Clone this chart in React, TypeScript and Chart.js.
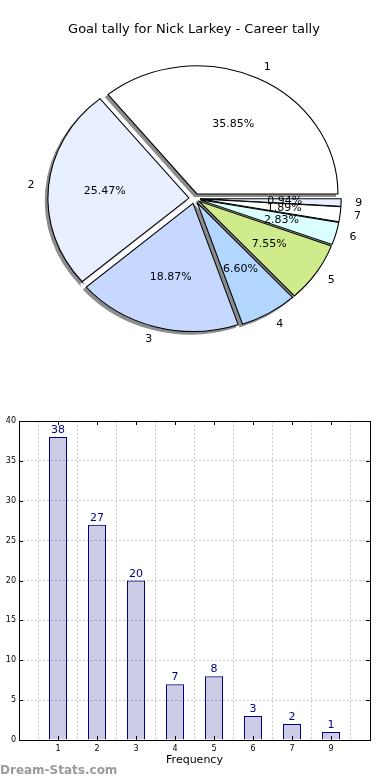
import { useEffect, useRef } from 'react';
import { Chart, registerables } from 'chart.js';

Chart.register(...registerables);

const TITLE = 'Goal tally for Nick Larkey - Career tally';
const categories = ['1', '2', '3', '4', '5', '6', '7', '9'];
const goals = [38, 27, 20, 7, 8, 3, 2, 1];
const sliceColors = ['#ffffff', '#e8f0ff', '#c6d8ff', '#b3d6ff', '#d0eb8c', '#dbffff', '#ffffff', '#e8f0ff'];
const yTicks = [0, 5, 10, 15, 20, 25, 30, 35, 40];
const xAxisTitle = 'Frequency';
const watermark = 'Dream-Stats.com';

const FONT = "'DejaVu Sans', Verdana, sans-serif";
const RADIUS = 128;
const SX = 141 / 128;
const EXPLODE = 0.04;
const SHADOW_DX = -2.6;
const SHADOW_DY = 2.6;
const SHADOW_COLOR = '#8c8c8c';

// matplotlib draws counter-clockwise from 3 o'clock; Chart.js draws clockwise,
// so the order is reversed and the start is put at 3 o'clock.
const pieLabels = [...categories].reverse();
const pieValues = [...goals].reverse();
const pieColors = [...sliceColors].reverse();
const total = goals.reduce((a, b) => a + b, 0);

const piePlugin = {
  id: 'pieDecor',
  beforeDraw(chart: any) {
    const ctx = chart.ctx;
    ctx.save();
    ctx.fillStyle = '#000';
    ctx.font = `13px ${FONT}`;
    ctx.textAlign = 'center';
    ctx.textBaseline = 'middle';
    ctx.fillText(TITLE, 194, 30);
    ctx.restore();
  },
  beforeDatasetDraw(chart: any, args: any) {
    const meta = chart.getDatasetMeta(args.index);
    const els = meta.data;
    if (!els.length) return;
    const ctx = chart.ctx;
    const cx = els[0].x;
    const cy = els[0].y;
    ctx.save();
    ctx.translate(cx, cy);
    ctx.scale(SX, 1);
    ctx.translate(-cx, -cy);
    const pass = (shadow: boolean) => {
      els.forEach((el: any) => {
        const mid = (el.startAngle + el.endAngle) / 2;
        const d = EXPLODE * el.outerRadius;
        ctx.save();
        ctx.translate(
          Math.cos(mid) * d + (shadow ? SHADOW_DX / SX : 0),
          Math.sin(mid) * d + (shadow ? SHADOW_DY : 0)
        );
        if (shadow) {
          const orig = el.options;
          el.options = { ...orig, backgroundColor: SHADOW_COLOR, borderColor: SHADOW_COLOR };
          el.draw(ctx);
          el.options = orig;
        } else {
          el.draw(ctx);
        }
        ctx.restore();
      });
    };
    pass(true);
    pass(false);
    ctx.restore();
    return false;
  },
  afterDatasetsDraw(chart: any) {
    const meta = chart.getDatasetMeta(0);
    const els = meta.data;
    const ctx = chart.ctx;
    ctx.save();
    ctx.fillStyle = '#000';
    ctx.font = `11px ${FONT}`;
    ctx.textBaseline = 'middle';
    els.forEach((el: any, i: number) => {
      const mid = (el.startAngle + el.endAngle) / 2;
      const ux = Math.cos(mid);
      const uy = Math.sin(mid);
      const r = el.outerRadius;
      const d = EXPLODE * r;
      const pct = ((pieValues[i] / total) * 100).toFixed(2) + '%';
      ctx.textAlign = 'center';
      ctx.fillText(pct, el.x + SX * (ux * d + ux * r * 0.6), el.y + uy * d + uy * r * 0.6);
      ctx.textAlign = ux >= 0 ? 'left' : 'right';
      ctx.fillText(pieLabels[i], el.x + SX * (ux * d + ux * r * 1.1), el.y + uy * d + uy * r * 1.1);
    });
    ctx.restore();
  },
};

const barPlugin = {
  id: 'barDecor',
  afterDatasetsDraw(chart: any) {
    const ctx = chart.ctx;
    const meta = chart.getDatasetMeta(0);
    const data = chart.data.datasets[0].data;
    ctx.save();
    ctx.fillStyle = '#000080';
    ctx.font = `11px ${FONT}`;
    ctx.textAlign = 'center';
    ctx.textBaseline = 'alphabetic';
    meta.data.forEach((el: any, i: number) => {
      const v = data[i];
      if (v === null || v === undefined) return;
      ctx.fillText(String(v), el.x, el.y - 4);
    });
    ctx.restore();
  },
  afterDraw(chart: any) {
    const ctx = chart.ctx;
    const a = chart.chartArea;
    const xs = chart.scales.x;
    const ys = chart.scales.y;
    ctx.save();
    ctx.strokeStyle = '#000';
    ctx.lineWidth = 1;
    ctx.beginPath();
    yTicks.forEach((t) => {
      const y = Math.round(ys.getPixelForValue(t)) + 0.5;
      ctx.moveTo(a.left, y);
      ctx.lineTo(a.left + 4, y);
      ctx.moveTo(a.right, y);
      ctx.lineTo(a.right - 4, y);
    });
    categories.forEach((_c, i) => {
      const x = Math.round(xs.getPixelForValue(i + 1)) + 0.5;
      ctx.moveTo(x, a.bottom);
      ctx.lineTo(x, a.bottom - 4);
      ctx.moveTo(x, a.top);
      ctx.lineTo(x, a.top + 4);
    });
    ctx.stroke();
    ctx.strokeRect(Math.round(a.left) + 0.5, Math.round(a.top) + 0.5, Math.round(a.right - a.left), Math.round(a.bottom - a.top));
    ctx.restore();
  },
};

export default function App() {
  const pieRef = useRef<HTMLCanvasElement>(null);
  const barRef = useRef<HTMLCanvasElement>(null);

  useEffect(() => {
    const pie = new Chart(pieRef.current as HTMLCanvasElement, {
      type: 'pie',
      data: {
        labels: pieLabels,
        datasets: [
          {
            data: pieValues,
            backgroundColor: pieColors,
            borderColor: '#000',
            borderWidth: 1,
            borderJoinStyle: 'miter',
          } as any,
        ],
      },
      options: {
        animation: false,
        responsive: false,
        events: [],
        rotation: 90,
        radius: RADIUS,
        layout: { padding: { top: 7, right: 1, left: 0, bottom: 0 } },
        plugins: { legend: { display: false }, tooltip: { enabled: false }, title: { display: false } },
      } as any,
      plugins: [piePlugin],
    });

    const bar = new Chart(barRef.current as HTMLCanvasElement, {
      type: 'bar',
      data: {
        labels: ['', ...categories, ''],
        datasets: [
          {
            data: [null, ...goals, null],
            backgroundColor: 'rgba(0,0,128,0.2)',
            borderColor: '#000080',
            borderWidth: 1,
            barThickness: 18,
            inflateAmount: 0,
          } as any,
        ],
      },
      options: {
        animation: false,
        responsive: false,
        events: [],
        layout: { padding: { top: 21, right: 20, left: 0, bottom: 0 } },
        plugins: { legend: { display: false }, tooltip: { enabled: false } },
        scales: {
          x: {
            offset: false,
            grid: { color: '#c8c8c8', lineWidth: 1, drawTicks: false },
            border: { display: false, dash: [2, 2] },
            ticks: { font: { family: FONT, size: 8 }, color: '#000', padding: 4, maxRotation: 0, autoSkip: false },
            title: {
              display: true,
              text: xAxisTitle,
              font: { family: FONT, size: 11 },
              color: '#000',
              padding: { top: 0, bottom: 13 },
            },
            afterFit: (s: any) => {
              s.height = 40;
            },
          },
          y: {
            min: 0,
            max: 40,
            grid: { color: '#c8c8c8', lineWidth: 1, drawTicks: false },
            border: { display: false, dash: [2, 2] },
            ticks: { stepSize: 5, font: { family: FONT, size: 8 }, color: '#000', padding: 3 },
            afterFit: (s: any) => {
              s.width = 19;
            },
          },
        },
      } as any,
      plugins: [barPlugin],
    });

    return () => {
      pie.destroy();
      bar.destroy();
    };
  }, []);

  return (
    <div style={{ position: 'absolute', left: 0, top: 0, width: 390, height: 780, background: '#fff', overflow: 'hidden' }}>
      <canvas ref={pieRef} width={390} height={390} style={{ position: 'absolute', left: 0, top: 0, width: 390, height: 390 }} />
      <canvas ref={barRef} width={390} height={380} style={{ position: 'absolute', left: 0, top: 400, width: 390, height: 380 }} />
      <div
        style={{
          position: 'absolute',
          left: 0,
          top: 763,
          font: `bold 12px ${FONT}`,
          lineHeight: '14px',
          color: '#9a9a9a',
          whiteSpace: 'nowrap',
        }}
      >
        {watermark}
      </div>
    </div>
  );
}
